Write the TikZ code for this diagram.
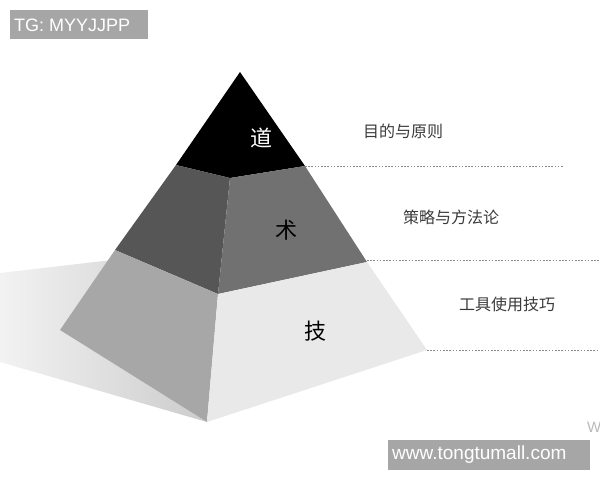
\documentclass[tikz,border=0pt]{standalone}
\usepackage{fontspec}
\setmainfont{Liberation Sans}
\newfontfamily\cjk{Noto Sans CJK SC}
\definecolor{boxgray}{HTML}{A6A6A6}
\definecolor{tiertop}{HTML}{000000}
\definecolor{midleft}{HTML}{565656}
\definecolor{midright}{HTML}{717171}
\definecolor{lowleft}{HTML}{A7A7A7}
\definecolor{lowright}{HTML}{E9E9E9}
\definecolor{labelgray}{HTML}{3A3A3A}
\definecolor{dotgray}{HTML}{8A8A8A}
\begin{document}
\begin{tikzpicture}[x=1pt,y=-1pt,
  guide/.style={draw=dotgray,line width=0.8pt,dash pattern=on 1.6pt off 1.6pt},
  sidelabel/.style={text=labelgray,font=\cjk\fontsize{16}{18}\selectfont,inner sep=0pt},
  tierlabel/.style={font=\cjk\fontsize{22}{26}\selectfont,inner sep=0pt},
  tagbox/.style={fill=boxgray,text=white,inner sep=0pt,anchor=north west}
]
\useasboundingbox (0,0) rectangle (600,480);
\clip (0,0) rectangle (600,480);
% pyramid points
\coordinate (A) at (240,72);
\coordinate (L1) at (176,165);
\coordinate (C1) at (230,178);
\coordinate (R1) at (305,166);
\coordinate (L2) at (115,250);
\coordinate (C2) at (218,294);
\coordinate (R2) at (367,262);
\coordinate (L3) at (60,330);
\coordinate (C3) at (207,422);
\coordinate (R3) at (427,350);
% shadow
\shade[left color=white!95!black,right color=white!80!black]
  (0,273) -- (112,260) -- (L3) -- (C3) -- (0,362) -- cycle;
% faces
\fill[tiertop] (A) -- (L1) -- (C1) -- (R1) -- cycle;
\fill[midleft] (L1) -- (L2) -- (C2) -- (C1) -- cycle;
\fill[midright] (C1) -- (C2) -- (R2) -- (R1) -- cycle;
\fill[lowleft] (L2) -- (L3) -- (C3) -- (C2) -- cycle;
\fill[lowright] (C2) -- (C3) -- (R3) -- (R2) -- cycle;
% guide lines
\coordinate (E1) at (563,166);
\coordinate (E2) at (600,260);
\coordinate (E3) at (600,350);
\coordinate (S2) at (367,260);
\coordinate (S3) at (427,350);
\draw[guide] (R1) -- (E1);
\draw[guide] (S2) -- (E2);
\draw[guide] (S3) -- (E3);
% tier labels
\node[tierlabel,text=white] (dao) at (261,138) {道};
\node[tierlabel,text=black] (shu) at (286,230) {术};
\node[tierlabel,text=black] (ji) at (315,331) {技};
% side labels
\node[sidelabel] (goal) at (403,131) {目的与原则};
\node[sidelabel] (method) at (451,217) {策略与方法论};
\node[sidelabel] (tool) at (507,304) {工具使用技巧};
% watermarks
\node[tagbox,minimum width=138pt,minimum height=29pt] (tg) at (10,10) {};
\node[text=white,anchor=west,inner sep=0pt,font=\fontsize{18}{20}\selectfont] (tgtext) at (14,25) {TG: MYYJJPP};
\node[tagbox,minimum width=202pt,minimum height=30pt] (www) at (388,440) {};
\node[text=white,anchor=west,inner sep=0pt,font=\fontsize{19}{21}\selectfont] (wwwtext) at (392,455) {www.tongtumall.com};
\node[text=gray!55,anchor=west,inner sep=0pt,font=\fontsize{15}{17}\selectfont] (wcut) at (587,427) {W};
\end{tikzpicture}
\end{document}
